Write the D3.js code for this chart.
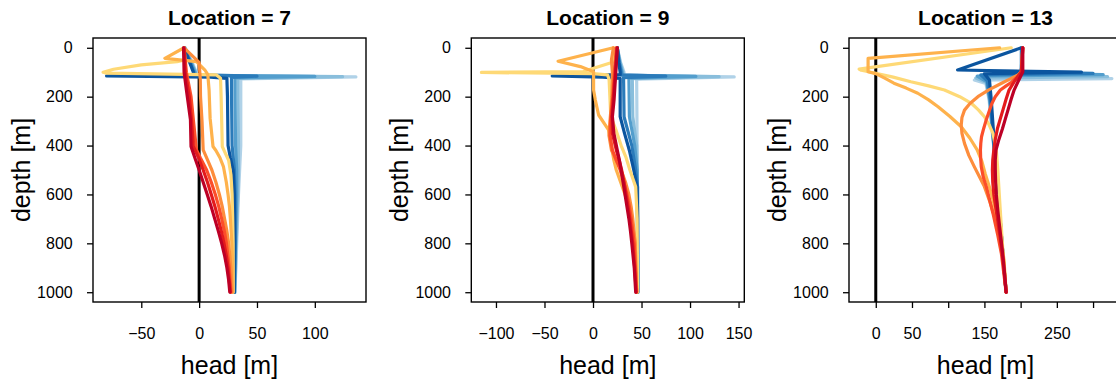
<!DOCTYPE html>
<html><head><meta charset="utf-8">
<script src="https://cdn.jsdelivr.net/npm/d3@7"></script>
<style>
body{margin:0;background:#fff}
svg{display:block}
text{font-family:"Liberation Sans",Arial,Helvetica,sans-serif;fill:#000}
</style>
</head><body>
<svg id="c" width="1116" height="385"></svg>
<script>
// ---------- data ----------
const panelTitles = ["Location = 7", "Location = 9", "Location = 13"];
const depthTicks = [0, 200, 400, 600, 800, 1000];
const headTicks7 = [-50, 0, 50, 100];
const headLabels7 = ["\u221250", "0", "50", "100"];
const headTicks9 = [-100, -50, 0, 50, 100, 150];
const headLabels9 = ["\u2212100", "\u221250", "0", "50", "100", "150"];
const headTicks13 = [0, 50, 100, 150, 200, 250, 300];
const headLabels13 = ["0", "50", "", "150", "", "250", ""];
const blueColors = ["#0B559F", "#2B7BBA", "#539ECD", "#89BEDC", "#B0D2E8"];
const warmColors = ["#FED976", "#FEB24C", "#FD8D3C", "#FC4E2A", "#E31A1C", "#BD0026"];

// series: [depth, head] pairs, blues dark->light, warm yellow->dark red
const loc7Blues = [
  [[0,-13],[50,-9],[100,-5],[110,-5],[115,-80],[120,10],[125,24],[200,24.5],[400,25],[450,27],[500,29.4],[600,30.5],[800,30.8],[1000,30.5]],
  [[0,-13],[50,-8.5],[100,-4.5],[111,-4.5],[116,50],[121,28],[200,28],[400,28.5],[500,30.5],[600,31.2],[800,31],[1000,30.5]],
  [[0,-12.5],[50,-8],[100,-3.5],[112,-3.5],[117,100],[123,31],[200,31],[400,31.5],[500,32.5],[600,32.5],[800,31.5],[1000,30.5]],
  [[0,-12.5],[50,-7.5],[100,-3],[113,-3],[118,124],[125,33.5],[200,33.5],[400,34],[500,34],[600,33.5],[800,32],[1000,31]],
  [[0,-12],[50,-7],[100,-2.5],[114,-2.5],[119,135.5],[127,36],[200,36],[400,36],[500,35],[600,34],[800,32.5],[1000,31]]
];
const loc7Warm = [
  [[0,-13],[50,-12.4],[57,-19],[70,-50],[88,-74],[100,-83],[104,-80],[111,15],[125,18.5],[200,19],[300,19.5],[404,20],[430,22.5],[460,25.5],[520,27.5],[600,28.5],[700,29],[800,29.4],[1000,29.5]],
  [[0,-13],[43,-29.6],[57,-2.3],[91,5],[110,7.5],[173,8.6],[289,9.5],[404,12],[420,14.5],[450,18],[486,21],[550,23.5],[600,25],[650,26.2],[700,27],[800,28.3],[900,29],[1000,29]],
  [[0,-13],[60,0],[130,1],[200,1.2],[300,2.5],[418,3.5],[450,6.5],[500,11],[550,14.5],[600,17.5],[650,20],[700,22],[750,24],[800,25.5],[900,27.5],[1000,28.5]],
  [[0,-13],[100,-11],[200,-7],[295,-5],[418,-2.3],[450,1],[500,6.5],[550,10.5],[600,14],[650,17],[700,19.5],[750,21.8],[800,23.6],[900,26],[1000,27.5]],
  [[0,-13],[100,-12],[200,-8.5],[300,-6.5],[404,-5],[450,-0.5],[500,3.5],[550,7.2],[600,10.5],[650,13.7],[700,16.5],[750,19.2],[800,21.5],[850,23.5],[900,25],[1000,27]],
  [[0,-13.5],[100,-13],[173,-11],[295,-7.5],[404,-7],[450,-3.7],[500,0],[550,3.5],[600,7],[650,10.4],[700,13.5],[750,16.6],[800,19.5],[850,22],[900,24],[950,25.5],[1000,26.5]]
];
const loc9Blues = [
  [[0,25],[60,26.5],[100,28],[110,28],[115,-42],[120,10],[125,28],[282,28],[350,32.5],[420,37.5],[500,42],[570,45.5],[700,46],[1000,46]],
  [[0,25],[60,27],[100,29],[111,29],[116,75],[122,31.5],[282,32],[400,40],[500,44],[570,46],[1000,46]],
  [[0,25],[60,27.5],[100,30],[112,30],[117,106],[124,37],[282,37.5],[400,43],[500,45.5],[1000,46]],
  [[0,25],[60,28],[100,31],[113,31],[118,130],[126,40.5],[282,41],[400,45],[1000,46.5]],
  [[0,25],[60,28.5],[100,32],[114,32],[119,145.5],[128,45],[1000,46.5]]
];
const loc9Warm = [
  [[0,24],[58,21],[97,-10],[101,-115],[106,0],[111,15],[130,16.6],[280,18.3],[340,24],[400,29],[446,33.8],[500,38],[569,44],[700,45.5],[1000,46]],
  [[0,21],[55,-36],[77,-13],[98,0.6],[173,0.6],[214,2.4],[275,5.8],[336,16],[418,19.7],[460,21.5],[500,24],[550,28.5],[600,33],[650,37],[700,40],[800,43.5],[1000,45]],
  [[0,21],[50,19],[100,20],[200,19.5],[300,17.5],[360,16.5],[418,19],[460,24],[500,29],[550,33.5],[600,37],[650,39.3],[700,41],[800,43.5],[1000,45]],
  [[0,24],[100,22],[200,20.5],[300,18],[360,17.5],[418,20],[460,24],[500,28],[550,31.8],[600,35],[650,37.5],[700,39.5],[800,42.5],[1000,45]],
  [[0,25],[100,23],[200,21],[282,19.5],[350,20],[418,24],[460,27],[500,29.5],[550,32],[600,34],[650,36.1],[700,38],[800,41],[900,43],[1000,44.5]],
  [[0,25],[100,23.5],[214,21.7],[282,20],[350,21.5],[418,25],[460,27.2],[500,29],[550,31],[600,33],[650,35],[700,37],[750,38.6],[800,40],[900,42.5],[1000,44]]
];
const loc13Blues = [
  [[0,201],[91,113],[100,284],[106,150],[132,157],[214,159.5],[323,162],[450,165],[600,169],[750,173],[900,177],[1000,180]],
  [[0,201],[98,201],[100,200],[105,300],[111,145],[135,154],[214,158],[323,161],[450,164.5],[600,169],[750,173],[900,177],[1000,180]],
  [[0,202],[98,201],[105,200],[110,314],[116,140],[138,153],[214,157.5],[323,161],[450,164.5],[600,169],[750,173],[900,177],[1000,180]],
  [[0,202],[98,201],[112,200],[118,320],[124,138],[142,153],[214,157],[323,160.5],[450,164.5],[600,169],[750,173],[900,177],[1000,180]],
  [[0,202],[98,201],[120,200],[126,326],[132,136],[146,152],[214,156.5],[323,160],[450,164.5],[600,169],[750,173],[900,177],[1000,180]]
];
const loc13Warm = [
  [[0,187],[87,-23],[92,-20],[104,0],[120,24],[139,48.5],[156,73],[173,94.8],[200,116],[227,132],[255,142],[282,150],[315,156.5],[350,161.8],[418,166.4],[500,168.5],[623,171],[841,175.7],[1000,180]],
  [[0,171],[43,-10.6],[98,-10.6],[106,0],[125,13],[145,25],[165,42],[186,58],[213,73],[241,86],[280,102],[323,118],[370,130],[418,140],[465,146.5],[514,151],[570,157],[623,162],[732,171],[868,177],[1000,180]],
  [[0,203],[98,201],[110,197],[125,187],[146,173],[172,156],[200,141],[228,130],[255,122.5],[285,119],[316,118],[350,119],[391,122.5],[440,128.5],[486,136],[530,143.5],[568,150],[630,157.5],[691,164],[770,171],[855,176],[1000,180]],
  [[0,203],[98,201],[120,195],[140,188],[156,180],[173,172],[200,165],[230,160],[265,156],[300,152],[330,149],[364,146],[391,145],[418,144.5],[450,144.8],[486,145.6],[530,148.5],[568,152.6],[620,157],[677,161.8],[760,168],[841,173.4],[1000,180]],
  [[0,203],[98,201],[135,192],[173,184],[210,180],[250,176],[290,172],[330,168],[375,165],[418,163],[460,161.5],[500,161],[550,161.5],[600,163],[650,165.5],[700,168],[780,172],[868,175.7],[1000,180]],
  [[0,203],[98,203],[135,197],[173,191],[210,187],[250,183],[290,179],[330,175],[375,170],[418,166],[460,165],[500,165],[550,165.5],[600,166.4],[665,168.5],[732,171],[810,174],[896,177],[1000,180]]
];

// ---------- drawing ----------
const svg = d3.select("#c");
const W = 273, H = 264, TOP = 38;
const lefts = [93, 471.3, 849];
const panels = [
  {title: panelTitles[0], blues: loc7Blues, warm: loc7Warm, ticks: headTicks7, labels: headLabels7},
  {title: panelTitles[1], blues: loc9Blues, warm: loc9Warm, ticks: headTicks9, labels: headLabels9},
  {title: panelTitles[2], blues: loc13Blues, warm: loc13Warm, ticks: headTicks13, labels: headLabels13}
];
const y = d3.scaleLinear().domain([-40, 1040]).range([TOP, TOP + H]);

panels.forEach((p, i) => {
  const L = lefts[i];
  const all = p.blues.concat(p.warm).flat();
  const ext = d3.extent(all, d => d[1]);
  const pad = (ext[1] - ext[0]) * 0.04;
  const x = d3.scaleLinear().domain([ext[0] - pad, ext[1] + pad]).range([L, L + W]);
  const g = svg.append("g");

  g.append("clipPath").attr("id", "clip" + i)
    .append("rect").attr("x", L).attr("y", TOP).attr("width", W).attr("height", H);

  const plot = g.append("g").attr("clip-path", `url(#clip${i})`);
  plot.append("line")
    .attr("x1", x(0)).attr("x2", x(0)).attr("y1", TOP).attr("y2", TOP + H)
    .attr("stroke", "#000").attr("stroke-width", 3);

  const line = d3.line().x(d => x(d[1])).y(d => y(d[0]));
  const series = [];
  for (let k = p.blues.length - 1; k >= 0; k--) series.push({d: p.blues[k], c: blueColors[k]});
  p.warm.forEach((s, k) => series.push({d: s, c: warmColors[k]}));
  plot.selectAll("path.s").data(series).join("path")
    .attr("class", "s")
    .attr("d", s => line(s.d))
    .attr("fill", "none")
    .attr("stroke", s => s.c)
    .attr("stroke-width", 3.2)
    .attr("stroke-linejoin", "round")
    .attr("stroke-linecap", "round");

  g.append("rect").attr("x", L).attr("y", TOP).attr("width", W).attr("height", H)
    .attr("fill", "none").attr("stroke", "#000").attr("stroke-width", 1.4);

  const ya = g.append("g").attr("transform", `translate(${L},0)`)
    .call(d3.axisLeft(y).tickValues(depthTicks).tickFormat(d3.format("d")).tickSize(6).tickPadding(14.3));
  ya.select(".domain").remove();
  ya.attr("font-size", 16).attr("font-family", null);
  ya.selectAll("line").attr("stroke", "#000").attr("stroke-width", 1.3);
  ya.selectAll("text").attr("fill", "#000");

  const xa = g.append("g").attr("transform", `translate(0,${TOP + H})`)
    .call(d3.axisBottom(x).tickValues(p.ticks).tickFormat((d, j) => p.labels[j]).tickSize(6).tickPadding(20));
  xa.select(".domain").remove();
  xa.attr("font-size", 16).attr("font-family", null);
  xa.selectAll("line").attr("stroke", "#000").attr("stroke-width", 1.3);
  xa.selectAll("text").attr("fill", "#000");

  g.append("text").attr("x", L + W / 2).attr("y", 25)
    .attr("text-anchor", "middle").attr("font-size", 21).attr("font-weight", "bold")
    .text(p.title);
  g.append("text").attr("x", L + W / 2).attr("y", 374)
    .attr("text-anchor", "middle").attr("font-size", 25)
    .text("head [m]");
  g.append("text").attr("transform", `translate(${L - 63.5},${TOP + H / 2}) rotate(-90)`)
    .attr("text-anchor", "middle").attr("font-size", 25)
    .text("depth [m]");
});
</script>
</body></html>
